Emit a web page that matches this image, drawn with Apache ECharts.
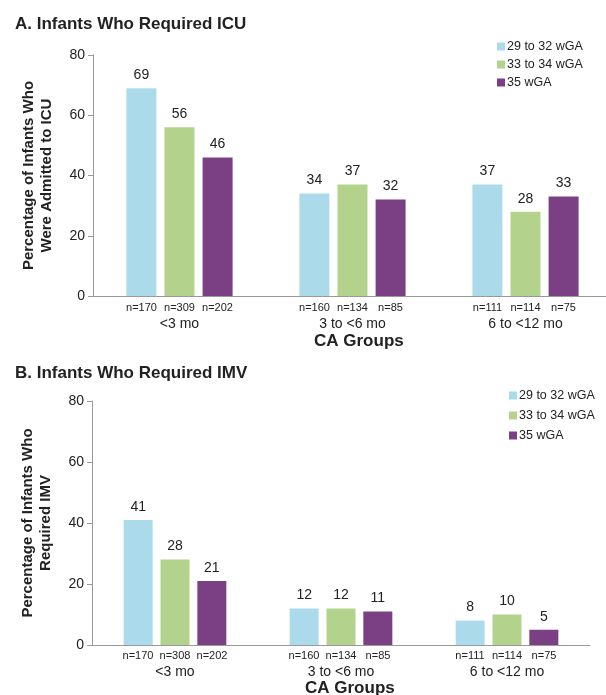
<!DOCTYPE html>
<html><head><meta charset="utf-8">
<script src="https://cdn.jsdelivr.net/npm/echarts@6/dist/echarts.min.js"></script>
<style>html,body{margin:0;padding:0;background:#fff}#c{width:606px;height:695px}</style>
</head><body><div id="c"></div>
<script>
const categories = ['<3 mo', '3 to <6 mo', '6 to <12 mo'];
const seriesNames = ['29 to 32 wGA', '33 to 34 wGA', '35 wGA'];
const icuNs = [['n=170','n=309','n=202'], ['n=160','n=134','n=85'], ['n=111','n=114','n=75']];
const imvNs = [['n=170','n=308','n=202'], ['n=160','n=134','n=85'], ['n=111','n=114','n=75']];
const icu29 = [69, 34, 37];
const icu33 = [56, 37, 28];
const icu35 = [46, 32, 33];
const imv29 = [41, 12, 8];
const imv33 = [28, 12, 10];
const imv35 = [21, 11, 5];
const yTicks = [0, 20, 40, 60, 80];
const colors = ['#abdbeb', '#b3d38c', '#7b4083'];

const FONT = 'Liberation Sans, Arial, sans-serif';
const chart = echarts.init(document.getElementById('c'));

function catLabels(ns, w, margin) {
  return {
    interval: 0, margin: margin, fontFamily: FONT, color: '#222',
    formatter: function (v, i) {
      const n = ns[i];
      return '{n|' + n[0] + '}{n|' + n[1] + '}{n|' + n[2] + '}\n{c|' + v + '}';
    },
    rich: {
      n: { fontSize: 11, width: w, align: 'center', fontFamily: FONT, color: '#222', lineHeight: 13 },
      c: { fontSize: 14, fontFamily: FONT, color: '#222', lineHeight: 21 }
    }
  };
}
function yAxisCfg(gi, name) {
  return {
    gridIndex: gi, type: 'value', min: 0, max: 80, interval: 20,
    name: name, nameLocation: 'middle', nameGap: 37, nameRotate: 90,
    nameTextStyle: { fontSize: 15, fontWeight: 'bold', fontFamily: FONT, color: '#222', lineHeight: 18 },
    axisLine: { show: true, lineStyle: { color: '#999' } },
    axisTick: { show: true, length: 5, lineStyle: { color: '#999' } },
    splitLine: { show: false },
    axisLabel: { fontSize: 14, fontFamily: FONT, color: '#222', margin: 8,
      formatter: v => yTicks.includes(v) ? String(v) : '' }
  };
}
function barSeries(data, idx, xi, yi, bw) {
  return {
    type: 'bar', name: seriesNames[idx], xAxisIndex: xi, yAxisIndex: yi,
    data: data, barWidth: bw, barGap: '27%',
    itemStyle: { color: colors[idx] },
    label: { show: true, position: 'top', distance: 6, fontSize: 14, fontFamily: FONT, color: '#222' }
  };
}
const legendBase = {
  orient: 'vertical', icon: 'rect', itemWidth: 8, itemHeight: 8, itemGap: 5,
  textStyle: { fontSize: 12.5, fontFamily: 'Liberation Sans Narrow, Liberation Sans, Arial, sans-serif', color: '#222', padding: [0, 0, 0, -3] },
  data: seriesNames
};
const boldText = { fontSize: 17, fontWeight: 'bold', fontFamily: FONT, fill: '#222' };

chart.setOption({
  animation: false,
  title: [
    { text: 'A. Infants Who Required ICU', left: 10, top: 11, textStyle: { fontSize: 17, fontWeight: 'bold', fontFamily: FONT, color: '#222' } },
    { text: 'B. Infants Who Required IMV', left: 10, top: 360, textStyle: { fontSize: 17, fontWeight: 'bold', fontFamily: FONT, color: '#222' } }
  ],
  graphic: [
    { type: 'text', x: 314, y: 333, style: Object.assign({ text: 'CA Groups' }, boldText) },
    { type: 'text', x: 305, y: 680, style: Object.assign({ text: 'CA Groups' }, boldText) }
  ],
  legend: [
    Object.assign({}, legendBase, { left: 492, top: 35 }),
    Object.assign({}, legendBase, { left: 504, top: 384, itemGap: 7 })
  ],
  grid: [
    { left: 93, top: 55, width: 519, height: 241, outerBoundsMode: 'none', containLabel: false },
    { left: 92, top: 401, width: 498, height: 244, outerBoundsMode: 'none', containLabel: false }
  ],
  xAxis: [
    { gridIndex: 0, type: 'category', data: categories,
      axisLine: { lineStyle: { color: '#999' } }, axisTick: { show: false },
      axisLabel: catLabels(icuNs, 38, 5) },
    { gridIndex: 1, type: 'category', data: categories,
      axisLine: { lineStyle: { color: '#999' } }, axisTick: { show: false },
      axisLabel: catLabels(imvNs, 37, 4) }
  ],
  yAxis: [
    yAxisCfg(0, 'Percentage of Infants Who\nWere Admitted to ICU'),
    yAxisCfg(1, 'Percentage of Infants Who\nRequired IMV')
  ],
  series: [
    barSeries(icu29, 0, 0, 0, 30), barSeries(icu33, 1, 0, 0, 30), barSeries(icu35, 2, 0, 0, 30),
    barSeries(imv29, 0, 1, 1, 29), barSeries(imv33, 1, 1, 1, 29), barSeries(imv35, 2, 1, 1, 29)
  ]
});
</script></body></html>
